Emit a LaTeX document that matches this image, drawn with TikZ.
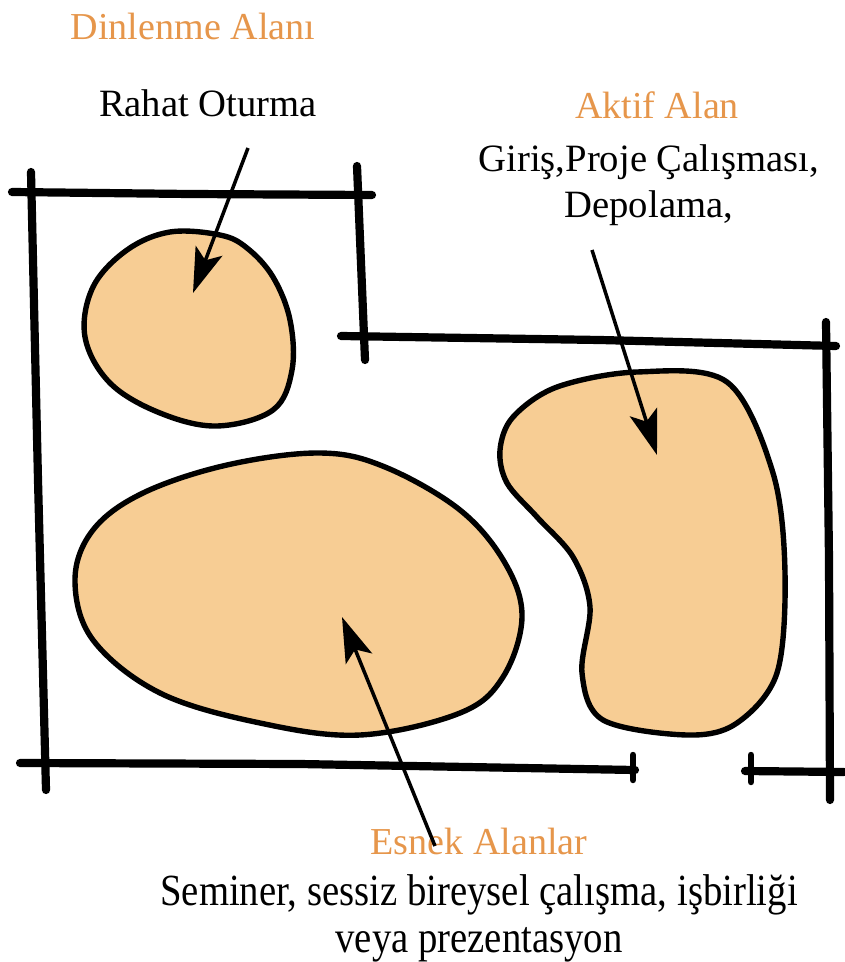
\documentclass[tikz,border=0pt]{standalone}
\usepackage{fontspec}
\setmainfont{Liberation Serif}
\newfontfamily\zonefont{Liberation Serif}
\newfontfamily\narrowfont[FakeStretch=0.87]{Liberation Serif}
\usetikzlibrary{arrows.meta,positioning}
\definecolor{zoneorange}{RGB}{230,150,75}
\definecolor{zonefill}{RGB}{247,205,148}

\begin{document}
\begin{tikzpicture}[x=0.3mm,y=-0.3mm,
  frame/.style={line width=7pt,line cap=round},
  tick/.style={line width=5.5pt,line cap=round},
  zone/.style={draw,line width=4.6pt,fill=zonefill},
  title/.style={text=zoneorange,inner sep=0pt,font=\zonefont\fontsize{32.5}{38}\selectfont},
  note/.style={align=center,inner sep=0pt,font=\zonefont\fontsize{33}{39}\selectfont},
  pointer/.style={-{Stealth[length=13.5mm,width=8.5mm,inset=3mm]},line width=3pt}]
\useasboundingbox (0,0) rectangle (844,962);

% frame lines
\draw[frame] (12,192) -- (190,194) -- (372,195);
\draw[frame] (31,172) -- (38,480) -- (46,790);
\draw[frame] (357,166) -- (365,360);
\draw[frame] (341,336) -- (600,340) -- (836,346);
\draw[frame] (826,322) -- (829,560) -- (830,800);
\draw[frame] (20,763) -- (300,764) -- (635,770);
\draw[tick] (633,755) -- (633,780);
\draw[frame] (745,771) -- (844,772);
\draw[tick] (751,755) -- (751,782);

% zones
\draw[zone] plot[smooth cycle,tension=0.6] coordinates {(170,232) (220,235) (247,248) (273,277) (290,320) (292,370) (273,410) (217,426) (160,413) (110,383) (85,337) (93,287) (127,250)};
\draw[zone] plot[smooth cycle,tension=0.6] coordinates {(320,453) (385,467) (460,510) (505,563) (522,617) (503,677) (460,713) (360,735) (260,723) (160,693) (93,640) (75,580) (93,530) (143,493) (227,465)};
\draw[zone] plot[smooth cycle,tension=0.55] coordinates {(637,372) (727,382) (773,473) (785,573) (777,673) (737,723) (687,735) (603,720) (582,673) (590,607) (573,557) (537,517) (507,483) (500,450) (513,417) (557,387)};

% labels
\node[title] (restT) at (193,26) {Dinlenme Alanı};
\node[note] (restN) at (208,103) {Rahat Oturma};
\node[title] (activeT) at (657,105) {Aktif Alan};
\node[note,below=22pt of activeT,xshift=-7pt] (activeN) {Giriş,Proje Çalışması,\\Depolama,};
\node[title] (flexT) at (479,841) {Esnek Alanlar};
\node[note,below=17pt of flexT,font=\narrowfont\fontsize{38}{40}\selectfont] (flexN) {Seminer, sessiz bireysel çalışma, işbirliği\\veya prezentasyon};

% pointers
\coordinate (restTail) at (248,148);
\coordinate (restTip) at (193,293);
\coordinate (activeTail) at (592,250);
\coordinate (activeTip) at (657,455);
\coordinate (flexTail) at (435,846);
\coordinate (flexTip) at (342,617);
\draw[pointer] (restTail) -- (restTip);
\draw[pointer] (activeTail) -- (activeTip);
\draw[pointer] (flexTail) -- (flexTip);
\end{tikzpicture}
\end{document}
